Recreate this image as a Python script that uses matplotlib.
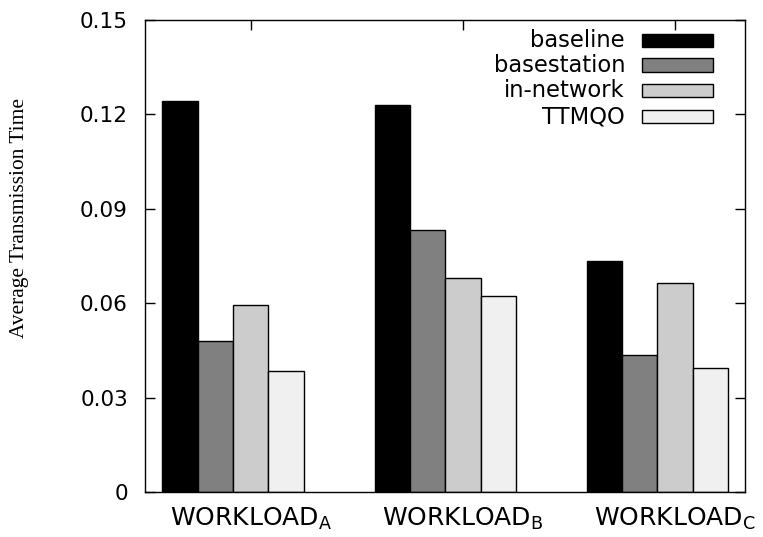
import numpy as np
import matplotlib
matplotlib.use("Agg")
import matplotlib.pyplot as plt
from matplotlib.patches import Rectangle

plt.rcParams["font.family"] = ["DejaVu Sans"]
plt.rcParams["mathtext.fontset"] = "custom"
plt.rcParams["mathtext.rm"] = "DejaVu Sans"
plt.rcParams["mathtext.it"] = "DejaVu Sans"

# 워크로드별 평균 전송 시간
workloads   = ["WORKLOAD$_\\mathregular{A}$", "WORKLOAD$_\\mathregular{B}$", "WORKLOAD$_\\mathregular{C}$"]
methods     = ["baseline", "basestation", "in-network", "TTMQO"]
baseline    = [0.1244, 0.1231, 0.0734]
basestation = [0.0480, 0.0832, 0.0434]
in_network  = [0.0593, 0.0681, 0.0663]
ttmqo       = [0.0384, 0.0624, 0.0395]
yticks      = [0, 0.03, 0.06, 0.09, 0.12, 0.15]
ytick_lbls  = ["0", "0.03", "0.06", "0.09", "0.12", "0.15"]

series = [baseline, basestation, in_network, ttmqo]
colors = ["#000000", "#808080", "#cccccc", "#f0f0f0"]

fig = plt.figure(figsize=(7.63, 5.37), dpi=100)
ax = fig.add_axes([0.1896, 0.0838, 0.7868, 0.879])

x = np.arange(len(workloads))
w = 1 / 6
for j, (vals, c) in enumerate(zip(series, colors)):
    ax.bar(x + (j - 2) * w, vals, width=w, color=c,
           edgecolor="black", linewidth=1.0, zorder=2)

ax.set_xlim(-0.5, 2 + 2 / 6 - 0.004)
ax.set_ylim(0, 0.15)
ax.set_xticks(x)
ax.set_xticklabels(workloads, fontsize=18)
ax.set_yticks(yticks)
ax.set_yticklabels(ytick_lbls, fontsize=15.6)

ax.tick_params(axis="x", direction="in", top=True, bottom=False,
               length=7, width=1, pad=10)
ax.tick_params(axis="y", direction="in", left=True, right=True,
               length=7, width=1, pad=12)
for s in ax.spines.values():
    s.set_linewidth(1.0)
    s.set_zorder(3)

fig.text(19.5 / 763, 1 - 217.5 / 537, "Average Transmission Time",
         rotation=90, ha="center", va="center", fontsize=15.4,
         family=["Liberation Serif", "DejaVu Serif"])

# 범례: 텍스트 오른쪽 정렬 + 샘플 박스
row_y = [40.7, 65.0, 90.7, 116.7]
for name, c, ry in zip(methods, colors, row_y):
    fy = 1 - ry / 537
    fig.text(625 / 763, fy, name, ha="right", va="center", fontsize=16.3)
    fig.patches.append(Rectangle((642 / 763, fy - 6.5 / 537), 71 / 763, 13 / 537,
                                 transform=fig.transFigure, facecolor=c,
                                 edgecolor="black", linewidth=1.0, figure=fig))

fig.savefig("out.png", dpi=100, facecolor="white")
